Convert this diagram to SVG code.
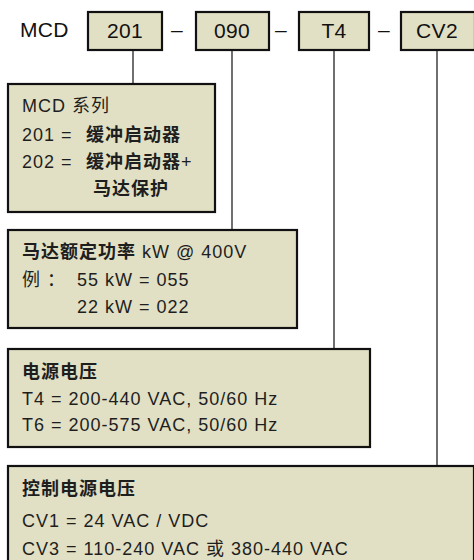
<svg xmlns="http://www.w3.org/2000/svg" width="474" height="560" viewBox="0 0 474 560">
<style>
.box{fill:#e1e0c4;stroke:#111;stroke-width:2.2}
.t{font-family:"Liberation Sans","Noto Sans CJK SC",sans-serif;font-size:18px;letter-spacing:1px;fill:#1e1e1e}
.b{font-weight:bold}
.h{font-family:"Liberation Sans","Noto Sans CJK SC",sans-serif;font-size:21px;letter-spacing:0.3px;fill:#111}
.c{text-anchor:middle}
.ln{stroke:#222;stroke-width:1.3;fill:none}
</style>
<rect width="474" height="560" fill="#fff"/>
<text class="h" x="20" y="37">MCD</text>
<g id="code-201"><rect class="box" x="88" y="12" width="74" height="38"/><text class="h c" x="125" y="38">201</text></g>
<text class="h c" x="177" y="37">–</text>
<g id="code-090"><rect class="box" x="196" y="12" width="73" height="38"/><text class="h c" x="232" y="38">090</text></g>
<text class="h c" x="281" y="37">–</text>
<g id="code-T4"><rect class="box" x="299" y="12" width="70" height="38"/><text class="h c" x="334" y="38">T4</text></g>
<text class="h c" x="384" y="37">–</text>
<g id="code-CV2"><rect class="box" x="401" y="12" width="74" height="38"/><text class="h c" x="437" y="38">CV2</text></g>
<g id="connectors">
<line class="ln" x1="133" y1="51" x2="133" y2="83"/>
<line class="ln" x1="232" y1="51" x2="232" y2="229"/>
<line class="ln" x1="334" y1="51" x2="334" y2="348"/>
<line class="ln" x1="437" y1="51" x2="437" y2="465"/>
</g>
<g id="series">
<rect class="box" x="8" y="84" width="207" height="128"/>
<text class="t" x="22" y="112">MCD 系列</text>
<text class="t" x="22" y="141">201 = <tspan class="b" x="86">缓冲启动器</tspan></text>
<text class="t" x="22" y="168">202 = <tspan class="b" x="86">缓冲启动器</tspan>+</text>
<text class="t b" x="93" y="195">马达保护</text>
</g>
<g id="power">
<rect class="box" x="8" y="230" width="289" height="98"/>
<text class="t" x="22" y="258"><tspan class="b">马达额定功率</tspan> kW @ 400V</text>
<text class="t" x="22" y="286">例 ：</text>
<text class="t" x="77" y="286">55 kW = 055</text>
<text class="t" x="77" y="313">22 kW = 022</text>
</g>
<g id="supply">
<rect class="box" x="8" y="349" width="362" height="98"/>
<text class="t b" x="22" y="378">电源电压</text>
<text class="t" x="22" y="405">T4 = 200-440 VAC, 50/60 Hz</text>
<text class="t" x="22" y="431">T6 = 200-575 VAC, 50/60 Hz</text>
</g>
<g id="control">
<rect class="box" x="8" y="466" width="466" height="100"/>
<text class="t b" x="22" y="495">控制电源电压</text>
<text class="t" x="22" y="527">CV1 = 24 VAC / VDC</text>
<text class="t" x="22" y="555">CV3 = 110-240 VAC 或 380-440 VAC</text>
</g>
</svg>
